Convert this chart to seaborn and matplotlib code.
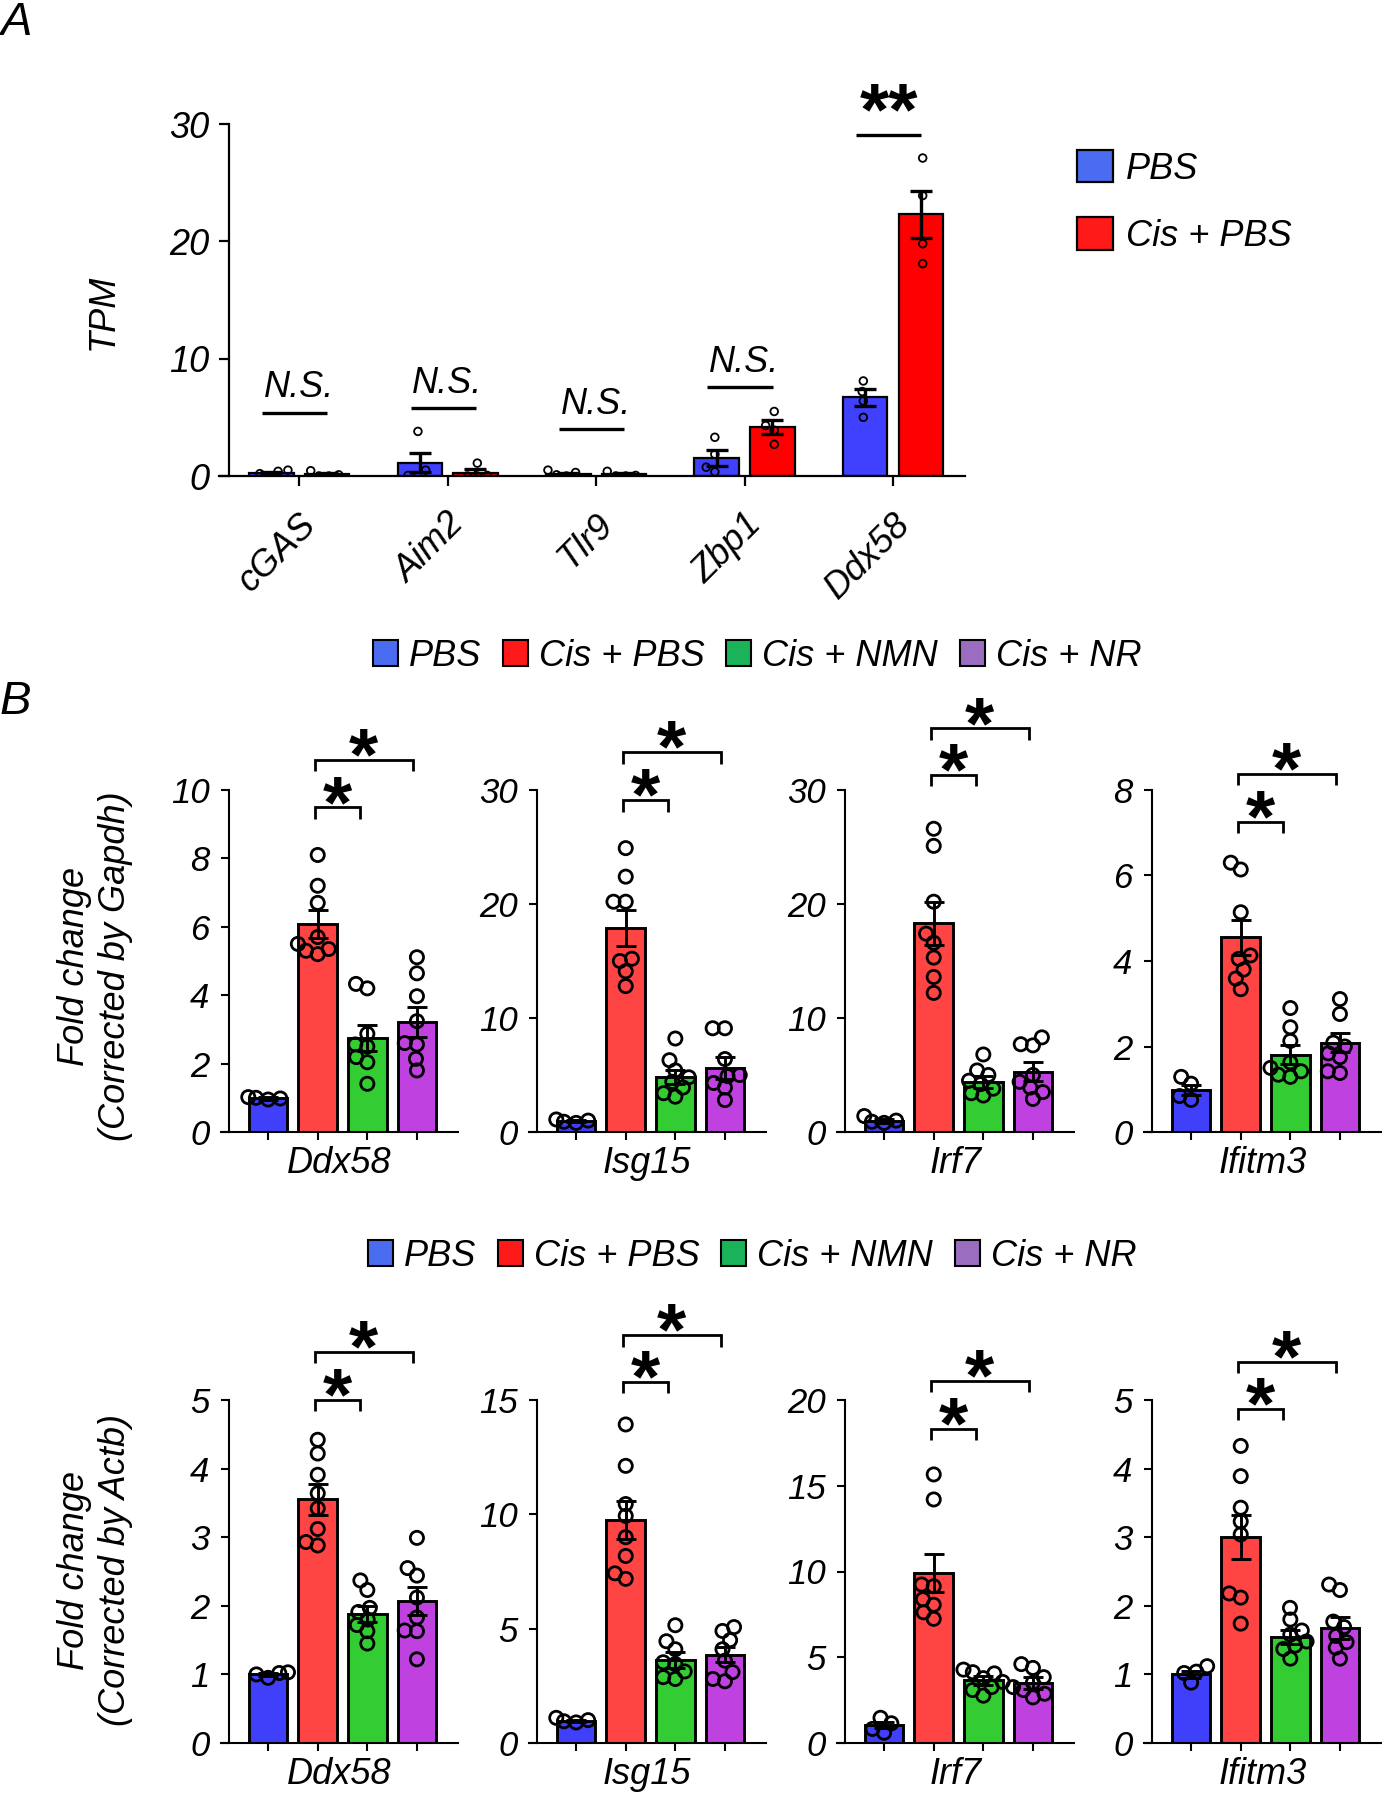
import numpy as np
import pandas as pd
import matplotlib
matplotlib.use("Agg")
import matplotlib.pyplot as plt
import matplotlib.transforms as mtransforms
import seaborn as sns
from matplotlib.patches import Patch

# ----------------------------------------------------------------------
# Panel A data (TPM, RNA-seq)
# ----------------------------------------------------------------------
genes_a = ["cGAS", "Aim2", "Tlr9", "Zbp1", "Ddx58"]
groups_a = ["PBS", "Cis + PBS"]
mean_a_pbs = [0.25, 1.15, 0.2, 1.55, 6.7]
mean_a_cis = [0.2, 0.28, 0.15, 4.2, 22.3]
sem_a_pbs = [0.08, 0.85, 0.08, 0.7, 0.7]
sem_a_cis = [0.08, 0.3, 0.08, 0.6, 2.0]
pts_a_pbs = [[0.4, 0.0, 0.2, 0.5], [3.8, 0.5, 0.0, 0.05], [0.3, 0.0, 0.1, 0.5],
             [3.3, 1.85, 0.75, 0.35], [8.1, 7.2, 6.4, 5.0]]
pts_a_cis = [[0.1, 0.0, 0.0, 0.45], [1.1, 0.0, 0.0, 0.05], [0.0, 0.0, 0.05, 0.4],
             [5.5, 4.3, 3.9, 2.7], [27.1, 23.9, 19.8, 18.1]]
sig_a_height = [5.4, 5.8, 4.0, 7.6, 29.1]
sig_a_text = ["N.S.", "N.S.", "N.S.", "N.S.", "**"]
yticks_a = [0, 10, 20, 30]

# ----------------------------------------------------------------------
# Panel B data (qPCR fold change)
# ----------------------------------------------------------------------
genes_b = ["Ddx58", "Isg15", "Irf7", "Ifitm3"]
groups_b = ["PBS", "Cis + PBS", "Cis + NMN", "Cis + NR"]

gapdh_ddx58_mean = [0.98, 6.08, 2.75, 3.22]
gapdh_ddx58_sem = [0.03, 0.40, 0.38, 0.43]
gapdh_ddx58_pts = [[1.0, 0.95, 1.02, 0.98], [8.1, 7.2, 6.7, 5.7, 5.5, 5.35, 5.2, 5.3],
                   [4.33, 4.2, 2.87, 2.56, 2.5, 2.19, 2.04, 1.41], [5.11, 4.64, 3.97, 3.24, 2.56, 2.6, 2.14, 1.8]]
gapdh_isg15_mean = [0.95, 17.9, 4.85, 5.6]
gapdh_isg15_sem = [0.06, 1.6, 0.6, 0.95]
gapdh_isg15_pts = [[1.0, 0.8, 1.1, 0.9], [24.9, 22.4, 20.2, 20.2, 15.2, 15.0, 14.1, 12.8],
                   [8.2, 6.3, 5.4, 4.8, 4.4, 3.9, 3.4, 3.1], [9.1, 9.1, 6.4, 5.0, 4.9, 4.3, 3.9, 2.8]]
gapdh_irf7_mean = [0.95, 18.3, 4.4, 5.3]
gapdh_irf7_sem = [0.15, 1.9, 0.5, 0.85]
gapdh_irf7_pts = [[1.4, 0.9, 0.8, 1.0], [26.6, 25.1, 20.2, 17.4, 16.6, 15.3, 13.6, 12.2],
                  [6.8, 5.4, 5.0, 4.5, 4.2, 3.8, 3.4, 3.2], [8.3, 7.7, 7.6, 5.0, 4.4, 3.9, 3.5, 2.9]]
gapdh_ifitm3_mean = [0.99, 4.55, 1.81, 2.09]
gapdh_ifitm3_sem = [0.12, 0.42, 0.22, 0.22]
gapdh_ifitm3_pts = [[1.29, 1.13, 0.84, 0.75], [6.3, 6.14, 5.14, 4.13, 4.05, 3.8, 3.59, 3.34],
                    [2.9, 2.45, 2.13, 1.63, 1.5, 1.42, 1.34, 1.29], [3.11, 2.76, 2.09, 2.0, 1.84, 1.75, 1.42, 1.38]]

actb_ddx58_mean = [1.0, 3.55, 1.88, 2.07]
actb_ddx58_sem = [0.02, 0.23, 0.12, 0.21]
actb_ddx58_pts = [[0.95, 1.02, 1.0, 1.03], [4.42, 4.22, 3.91, 3.64, 3.42, 3.12, 2.93, 2.88],
                  [2.37, 2.23, 1.97, 1.91, 1.8, 1.72, 1.63, 1.45], [2.99, 2.55, 2.44, 2.12, 1.83, 1.64, 1.63, 1.22]]
actb_isg15_mean = [0.95, 9.75, 3.65, 3.87]
actb_isg15_sem = [0.05, 0.84, 0.35, 0.32]
actb_isg15_pts = [[0.95, 1.0, 0.9, 1.1], [13.93, 12.12, 10.45, 9.93, 9.0, 8.18, 7.42, 7.18],
                  [5.15, 4.45, 4.1, 3.53, 3.45, 3.13, 2.88, 2.8], [5.07, 4.9, 4.5, 4.1, 3.6, 3.1, 2.7, 2.8]]
actb_irf7_mean = [1.03, 9.9, 3.65, 3.5]
actb_irf7_sem = [0.18, 1.1, 0.27, 0.34]
actb_irf7_pts = [[1.47, 1.15, 0.82, 0.6], [15.66, 14.2, 9.14, 9.24, 8.38, 8.06, 7.62, 7.24],
                 [4.28, 4.13, 4.06, 3.78, 3.56, 3.26, 3.09, 2.76], [4.6, 4.38, 3.84, 3.52, 3.26, 3.09, 2.87, 2.66]]
actb_ifitm3_mean = [1.0, 3.0, 1.54, 1.67]
actb_ifitm3_sem = [0.05, 0.32, 0.1, 0.16]
actb_ifitm3_pts = [[1.12, 1.04, 1.02, 0.88], [4.33, 3.89, 3.43, 3.23, 3.04, 2.18, 2.12, 1.74],
                   [1.97, 1.8, 1.64, 1.58, 1.48, 1.42, 1.37, 1.23], [2.31, 2.23, 1.77, 1.69, 1.56, 1.47, 1.39, 1.23]]

gapdh_yticks = [[0, 2, 4, 6, 8, 10], [0, 10, 20, 30], [0, 10, 20, 30], [0, 2, 4, 6, 8]]
actb_yticks = [[0, 1, 2, 3, 4, 5], [0, 5, 10, 15], [0, 5, 10, 15, 20], [0, 1, 2, 3, 4, 5]]
# significance bracket heights (short: Cis+PBS vs Cis+NMN, long: Cis+PBS vs Cis+NR)
gapdh_short = [9.49, 29.1, 31.3, 7.26]
gapdh_long = [10.88, 33.3, 35.4, 8.38]
actb_short = [5.0, 15.8, 18.3, 4.87]
actb_long = [5.70, 17.83, 21.1, 5.56]

# colours
bar_colors_a = ["#4040ff", "#ff0000"]
legend_colors_a = ["#4a6cf0", "#ff1a1a"]
bar_colors_b = ["#4040fa", "#ff4444", "#33cc33", "#bf42e0"]
legend_colors_b = ["#4a6cf0", "#ff1a1a", "#1ab35a", "#9b6dc0"]

# ----------------------------------------------------------------------
sns.set_theme(style="ticks")
plt.rcParams["font.family"] = ["Liberation Sans", "DejaVu Sans"]
plt.rcParams["font.style"] = "italic"
plt.rcParams["axes.edgecolor"] = "black"
plt.rcParams["xtick.color"] = "black"
plt.rcParams["ytick.color"] = "black"
plt.rcParams["text.color"] = "black"
plt.rcParams["axes.labelcolor"] = "black"

W, H = 1382, 1800
fig = plt.figure(figsize=(W / 100, H / 100), dpi=100)
swarm_colls = []  # (collection, final marker size, final edge width)


def px_axes(left, top, right, bottom):
    return fig.add_axes([left / W, 1 - bottom / H, (right - left) / W, (bottom - top) / H])


def style_axes(ax, spine_frac, lw, ticklen, labelsize, pad):
    sns.despine(ax=ax)
    ax.spines["left"].set_position(("axes", spine_frac))
    ax.spines["left"].set_linewidth(lw)
    ax.spines["bottom"].set_linewidth(lw)
    ax.tick_params(direction="out", width=lw, length=ticklen, labelsize=labelsize, pad=pad)


def hollow(ax, start, final_size, final_lw):
    for coll in ax.collections[start:]:
        coll.set_facecolor("none")
        coll.set_edgecolor("black")
        swarm_colls.append((coll, final_size, final_lw))


def star(ax, x, y, text, dy):
    ax.annotate(text, xy=(x, y), xytext=(0, dy), textcoords="offset points",
                ha="center", va="baseline", fontsize=54, fontweight="bold",
                fontstyle="normal", annotation_clip=False)


# ======================= Panel A =======================
axA = px_axes(219, 124, 965, 476)
bar_a = pd.DataFrame({
    "gene": genes_a * 2,
    "group": [g for g in groups_a for _ in genes_a],
    "tpm": mean_a_pbs + mean_a_cis,
})
sns.barplot(data=bar_a, x="gene", y="tpm", hue="group", order=genes_a, hue_order=groups_a,
            palette=bar_colors_a, saturation=1, width=0.75, gap=0.2, errorbar=None,
            edgecolor="black", linewidth=1.6, legend=False, ax=axA)
for cont, means, sems in zip(axA.containers, [mean_a_pbs, mean_a_cis], [sem_a_pbs, sem_a_cis]):
    xs = [p.get_x() + p.get_width() / 2 for p in cont]
    axA.errorbar(xs, means, yerr=sems, fmt="none", ecolor="black", elinewidth=2.4,
                 capsize=8, capthick=2.4, zorder=3)

rows = []
for g, pts_list in zip(groups_a, [pts_a_pbs, pts_a_cis]):
    for gene, pts in zip(genes_a, pts_list):
        rows += [(gene, g, v) for v in pts]
pts_a = pd.DataFrame(rows, columns=["gene", "group", "tpm"])
n0 = len(axA.collections)
sns.swarmplot(data=pts_a, x="gene", y="tpm", hue="group", order=genes_a, hue_order=groups_a,
              dodge=True, palette=["black", "black"], size=5.5, linewidth=1.3,
              legend=False, ax=axA, zorder=4)
hollow(axA, n0, 5.5, 1.3)

axA.set_xlim(-0.54, 4.485)
axA.set_ylim(0, 30)
axA.set_yticks(yticks_a)
axA.set_xlabel("")
axA.set_ylabel("")
style_axes(axA, 0.0134, 1.6, 7, 26, 7)
axA.tick_params(axis="x", pad=24)
shift = mtransforms.ScaledTranslation(12 / 100, 0, fig.dpi_scale_trans)
for lab in axA.get_xticklabels():
    lab.set_rotation(45)
    lab.set_ha("right")
    lab.set_va("center")
    lab.set_rotation_mode("anchor")
    lab.set_transform(lab.get_transform() + shift)

for i, (h, txt) in enumerate(zip(sig_a_height, sig_a_text)):
    x0, x1 = i - 0.25, i + 0.19
    axA.plot([x0, x1], [h, h], color="black", lw=2.4, clip_on=False, solid_capstyle="butt")
    if txt == "**":
        star(axA, (x0 + x1) / 2, h, txt, 0)
    else:
        axA.annotate(txt, xy=((x0 + x1) / 2, h), xytext=(3, 11), textcoords="offset points",
                     ha="center", va="baseline", fontsize=26, annotation_clip=False)

fig.text(103 / W, 1 - 312 / H, "TPM", rotation=90, ha="center", va="center", fontsize=26)
fig.text(0.0, 1 - 35 / H, "A", ha="left", va="baseline", fontsize=34)
handles_a = [Patch(facecolor=c, edgecolor="black", linewidth=1.6) for c in legend_colors_a]
fig.legend(handles_a, groups_a, loc="upper left", bbox_to_anchor=(1077 / W, 1 - 150 / H),
           frameon=False, fontsize=26, handlelength=1.0, handleheight=1.0,
           labelspacing=0.85, handletextpad=0.35, borderpad=0, borderaxespad=0)

# ======================= Panel B =======================
lefts_b = [221, 529, 837, 1144]
width_b = 236.6
row_specs = [
    dict(top=790, bottom=1132, norm="Gapdh", legend_xy=(757, 656), ylab_y=966,
         means=[gapdh_ddx58_mean, gapdh_isg15_mean, gapdh_irf7_mean, gapdh_ifitm3_mean],
         sems=[gapdh_ddx58_sem, gapdh_isg15_sem, gapdh_irf7_sem, gapdh_ifitm3_sem],
         pts=[gapdh_ddx58_pts, gapdh_isg15_pts, gapdh_irf7_pts, gapdh_ifitm3_pts],
         yticks=gapdh_yticks, short=gapdh_short, long=gapdh_long),
    dict(top=1400, bottom=1743, norm="Actb", legend_xy=(752, 1256), ylab_y=1570,
         means=[actb_ddx58_mean, actb_isg15_mean, actb_irf7_mean, actb_ifitm3_mean],
         sems=[actb_ddx58_sem, actb_isg15_sem, actb_irf7_sem, actb_ifitm3_sem],
         pts=[actb_ddx58_pts, actb_isg15_pts, actb_irf7_pts, actb_ifitm3_pts],
         yticks=actb_yticks, short=actb_short, long=actb_long),
]

for spec in row_specs:
    for c, gene in enumerate(genes_b):
        ax = px_axes(lefts_b[c], spec["top"], lefts_b[c] + width_b, spec["bottom"])
        bars = pd.DataFrame({"group": groups_b, "value": spec["means"][c]})
        sns.barplot(data=bars, x="group", y="value", hue="group", order=groups_b,
                    hue_order=groups_b, palette=bar_colors_b, saturation=1, width=0.78,
                    errorbar=None, edgecolor="black", linewidth=2.1, legend=False, ax=ax)
        xs = sorted(p.get_x() + p.get_width() / 2 for p in ax.patches)
        ax.errorbar(xs, spec["means"][c], yerr=spec["sems"][c], fmt="none", ecolor="black",
                    elinewidth=2.1, capsize=7, capthick=2.1, zorder=3)

        pts = pd.DataFrame([(g, v) for g, vals in zip(groups_b, spec["pts"][c]) for v in vals],
                           columns=["group", "value"])
        n0 = len(ax.collections)
        # compact swarm layout, markers are enlarged after the layout is fixed
        sns.swarmplot(data=pts, x="group", y="value", order=groups_b, color="black",
                      size=6.5, linewidth=1.9, ax=ax, zorder=4)
        hollow(ax, n0, 9.5, 2.0)

        ticks = spec["yticks"][c]
        ymax = ticks[-1]
        ax.set_xlim(-0.95, 3.82)
        ax.set_ylim(0, ymax)
        ax.set_yticks(ticks)
        ax.set_ylabel("")
        style_axes(ax, 0.034, 1.5, 6, 25, 8)
        ax.tick_params(axis="x", labelbottom=False)
        ax.set_xlabel(gene, fontsize=26, labelpad=4)

        leg = 0.033 * ymax
        for x1, h in [(1.85, spec["short"][c]), (2.92, spec["long"][c])]:
            x0 = 0.94
            ax.plot([x0, x0, x1, x1], [h - leg, h, h, h - leg], color="black", lw=2.0,
                    clip_on=False, solid_capstyle="butt", solid_joinstyle="miter")
            star(ax, (x0 + x1) / 2, h, "*", -14)

    fig.text(95 / W, 1 - spec["ylab_y"] / H, "Fold change\n(Corrected by %s)" % spec["norm"],
             rotation=90, ha="center", va="center", fontsize=26, linespacing=1.25,
             multialignment="center")
    handles_b = [Patch(facecolor=col, edgecolor="black", linewidth=1.5) for col in legend_colors_b]
    lx, ly = spec["legend_xy"]
    fig.legend(handles_b, groups_b, loc="center", bbox_to_anchor=(lx / W, 1 - ly / H), ncol=4,
               frameon=False, fontsize=26, handlelength=0.7, handleheight=0.7,
               handletextpad=0.3, columnspacing=0.6, borderpad=0, borderaxespad=0)

fig.text(0.0, 1 - 714 / H, "B", ha="left", va="baseline", fontsize=34)

# fix the swarm layout, then give the markers their final size
fig.canvas.draw()
for coll, size, lw in swarm_colls:
    if "draw" in coll.__dict__:
        del coll.draw
    coll.set_sizes([size ** 2])
    coll.set_linewidth(lw)

fig.savefig("out.png", dpi=100)
